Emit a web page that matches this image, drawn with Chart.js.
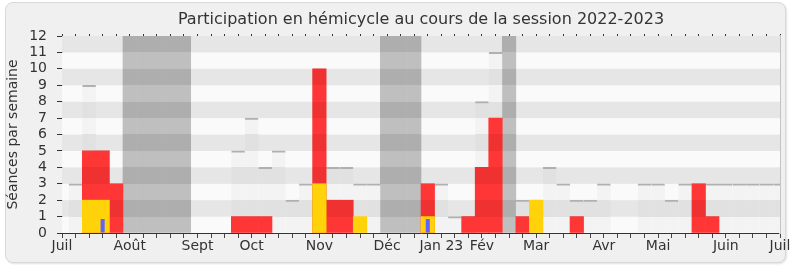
<!DOCTYPE html>
<html><head><meta charset="utf-8">
<script src="https://cdn.jsdelivr.net/npm/chart.js@4/dist/chart.umd.min.js"></script>
<style>
html,body{margin:0;padding:0;background:#fff;}
#wrap{position:relative;width:790px;height:267px;overflow:hidden;}
#frame{position:absolute;left:5px;top:2px;width:779px;height:259px;background:#f0f0f0;border:1px solid #d9d9d9;border-radius:8px;box-shadow:1px 1px 2px rgba(0,0,0,0.12);}
canvas{position:absolute;left:0;top:0;}
</style></head><body>
<div id="wrap"><div id="frame"></div><canvas id="c" width="790" height="267"></canvas></div>
<script>
// Month tick labels and the week index they sit on
const monthNames = ['Juil','Août','Sept','Oct','Nov','Déc','Jan 23','Fév','Mar','Avr','Mai','Juin','Juil'];
const monthWeeks = [0,5,10,14,19,24,28,31,35,40,44,49,53];
const weekCount = 54;

// Séances par semaine (total, light grey)
const seances = [0,3,9,5,3,0,0,0,0,0, 0,0,0,5,7,4,5,2,3,10, 4,4,3,3,0,0,0,3,3,1, 1,8,11,0,2,2,4,3,2,2, 3,0,0,3,3,2,3,3,3,3, 3,3,3,3];
// Présences (red)
const presences = [0,0,5,5,3,0,0,0,0,0, 0,0,0,1,1,1,0,0,0,10, 2,2,0,0,0,0,0,3,0,0, 1,4,7,0,1,0,0,0,1,0, 0,0,0,0,0,0,0,3,1,0, 0,0,0,0];
// Participations (yellow)
const participations = [0,0,2,2,0,0,0,0,0,0, 0,0,0,0,0,0,0,0,0,3, 0,0,1,0,0,0,0,1,0,0, 0,0,0,0,0,2,0,0,0,0, 0,0,0,0,0,0,0,0,0,0, 0,0,0,0];
// Questions (blue)
const questions = [0,0,0,0.85,0,0,0,0,0,0, 0,0,0,0,0,0,0,0,0,0, 0,0,0,0,0,0,0,0.85,0,0, 0,0,0,0,0,0,0,0,0,0, 0,0,0,0,0,0,0,0,0,0, 0,0,0,0];
// Vacances parlementaires
const vacances = [0,0,0,0,0,12,12,12,12,12, 0,0,0,0,0,0,0,0,0,0, 0,0,0,0,12,12,12,0,0,0, 0,0,0,12,0,0,0,0,0,0, 0,0,0,0,0,0,0,0,0,0, 0,0,0,0];
const yTicks = [0,1,2,3,4,5,6,7,8,9,10,11,12];

const weekLabels = Array.from({length: weekCount}, () => '');
monthWeeks.forEach((w, i) => { weekLabels[w] = monthNames[i]; });
const nz = arr => arr.map(v => (v === 0 ? null : v));

const FONT = "'DejaVu Sans', sans-serif";

// band-aware fill: one colour on light stripes, another on dark stripes
const gradCache = {};
function bandFill(key, light, dark) {
  return (c) => {
    const chart = c.chart;
    const y = chart.scales && chart.scales.y;
    if (!chart.chartArea || !y) return light;
    const y0 = y.getPixelForValue(yTicks[0]);
    const y1 = y.getPixelForValue(yTicks[yTicks.length - 1]);
    const id = key + ':' + y0 + ':' + y1;
    if (gradCache[id]) return gradCache[id];
    const g = chart.ctx.createLinearGradient(0, y0, 0, y1);
    const n = yTicks.length - 1;
    for (let i = 0; i < n; i++) {
      const col = (i % 2 === 1) ? dark : light;
      g.addColorStop(i / n, col);
      g.addColorStop((i + 1) / n, col);
    }
    gradCache[id] = g;
    return g;
  };
}

const stripes = {
  id: 'stripes',
  beforeDatasetsDraw(chart) {
    const {ctx, chartArea: a, scales: {y}} = chart;
    ctx.save();
    for (let i = 0; i < yTicks.length - 1; i++) {
      const t = y.getPixelForValue(yTicks[i + 1]);
      const b = y.getPixelForValue(yTicks[i]);
      ctx.fillStyle = (i % 2 === 1) ? '#e6e6e6' : '#fafafa';
      ctx.fillRect(a.left, t, a.right - a.left, b - t);
    }
    ctx.restore();
  }
};

const common = {grouped: false, categoryPercentage: 1, barPercentage: 1, borderSkipped: 'start'};

new Chart(document.getElementById('c'), {
  type: 'bar',
  data: {
    labels: weekLabels,
    datasets: [
      Object.assign({}, common, {label: 'Questions', data: nz(questions), backgroundColor: '#6262ff', barPercentage: 0.3, borderWidth: 0, order: 1}),
      Object.assign({}, common, {label: 'Participations', data: nz(participations), backgroundColor: '#ffd20a', borderWidth: 0, order: 2}),
      Object.assign({}, common, {label: 'Présences', data: nz(presences), backgroundColor: bandFill('p', '#ff3636', '#ef3131'), borderWidth: 0, order: 3}),
      Object.assign({}, common, {label: 'Séances', data: nz(seances), backgroundColor: bandFill('s', '#f3f3f3', '#e1e1e1'), borderColor: '#b0b0b0', borderWidth: {top: 2, left: 0, right: 0, bottom: 0}, order: 4}),
      Object.assign({}, common, {label: 'Vacances', data: nz(vacances), backgroundColor: bandFill('v', '#bfbfbf', '#aeaeae'), borderWidth: 0, order: 5})
    ]
  },
  options: {
    responsive: false,
    animation: false,
    events: [],
    layout: {padding: {left: 0, right: 10, top: 0, bottom: 0}},
    plugins: {
      legend: {display: false},
      tooltip: {enabled: false},
      title: {
        display: true, fullSize: false,
        text: 'Participation en hémicycle au cours de la session 2022-2023',
        color: '#333', font: {family: FONT, size: 16, weight: 'normal'},
        padding: {top: 10, bottom: 4.8}
      }
    },
    scales: {
      x: {
        type: 'category', position: 'bottom', offset: false,
        grid: {display: true, drawOnChartArea: false, drawTicks: true, tickLength: 5, color: '#444', offset: false},
        border: {display: true, color: '#333', width: 1},
        ticks: {autoSkip: false, maxRotation: 0, minRotation: 0, padding: 0, color: '#333', font: {family: FONT, size: 14}},
        afterFit(s) { s.height = 34; s.paddingLeft = 0; s.paddingRight = 0; }
      },
      x2: {
        type: 'category', position: 'top', offset: false, labels: weekLabels,
        grid: {display: true, drawOnChartArea: false, drawTicks: true, tickLength: 2, color: '#333', offset: false},
        border: {display: false},
        ticks: {display: false},
        afterFit(s) { s.height = 2; s.paddingLeft = 0; s.paddingRight = 0; }
      },
      y: {
        min: 0, max: 12, position: 'left',
        afterBuildTicks(s) { s.ticks = yTicks.map(v => ({value: v})); },
        grid: {display: true, drawOnChartArea: false, drawTicks: true, tickLength: 5, color: '#333'},
        border: {display: true, color: '#333', width: 1},
        ticks: {autoSkip: false, padding: 10, color: '#333', font: {family: FONT, size: 14}},
        title: {display: true, text: 'Séances par semaine', color: '#333', font: {family: FONT, size: 14}, padding: {top: 5, bottom: 0}},
        afterFit(s) { s.width = 62; }
      },
      y2: {
        position: 'right', min: 0, max: 12,
        grid: {display: true, drawOnChartArea: false, drawTicks: false},
        border: {display: true, color: '#c4c4c4', width: 2},
        ticks: {display: false}
      }
    }
  },
  plugins: [stripes]
});
</script>
</body></html>
